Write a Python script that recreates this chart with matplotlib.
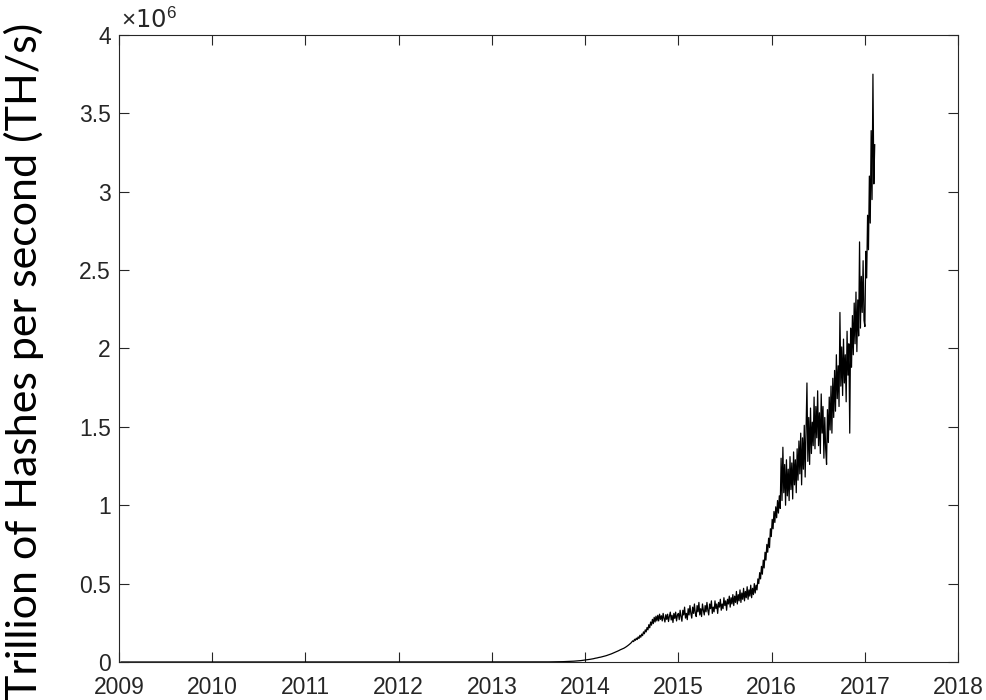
import numpy as np
import pandas as pd
import matplotlib
matplotlib.use('Agg')
import matplotlib.pyplot as plt

plt.rcParams['mathtext.fontset'] = 'custom'
plt.rcParams['mathtext.rm'] = 'Liberation Sans'
plt.rcParams['mathtext.it'] = 'Liberation Sans'

# hash rate values, in units of 1e6 TH/s
early_dates = ['2009-01-09', '2010-01-01', '2011-01-01', '2012-01-01', '2013-01-01', '2013-06-24']
early_vals = [0.0, 0.0, 0.00001, 0.00002, 0.00005, 0.0001]

# weekly values, 2013-07-01 .. 2014-06-30
hash_2013 = [0.0002, 0.0003, 0.0003, 0.0004, 0.0005, 0.0006, 0.0007, 0.0008, 0.0009, 0.0010,
             0.0012, 0.0014, 0.0016, 0.0019, 0.0022, 0.0026, 0.0030, 0.0035, 0.0040, 0.0046,
             0.0052, 0.0060, 0.0068, 0.0078, 0.0090, 0.0105, 0.0120]
hash_2014a = [0.013, 0.015, 0.017, 0.019, 0.021, 0.024, 0.026, 0.029, 0.031, 0.034,
              0.037, 0.040, 0.044, 0.048, 0.052, 0.057, 0.062, 0.067, 0.072, 0.078,
              0.083, 0.088, 0.095, 0.103, 0.112, 0.122]

# half-weekly values, 2014-07-03 onwards (noisier part)
hash_2014b = [0.128, 0.135, 0.130, 0.145, 0.138, 0.152, 0.143, 0.160, 0.150, 0.170,
              0.158, 0.178, 0.168, 0.192, 0.180, 0.205, 0.192, 0.220, 0.205, 0.238,
              0.218, 0.255, 0.235, 0.272, 0.245, 0.285, 0.255, 0.292, 0.262, 0.298,
              0.262, 0.305, 0.272, 0.295, 0.262, 0.310, 0.278, 0.255, 0.302, 0.272,
              0.305, 0.258, 0.292, 0.318, 0.268, 0.298, 0.252, 0.310, 0.278, 0.318, 0.262, 0.298]
hash_2015 = [0.31, 0.27, 0.33, 0.29, 0.26, 0.33, 0.30, 0.35, 0.28, 0.31,
             0.27, 0.34, 0.30, 0.36, 0.31, 0.28, 0.35, 0.31, 0.37, 0.31,
             0.29, 0.36, 0.32, 0.38, 0.30, 0.34, 0.29, 0.37, 0.33, 0.30,
             0.36, 0.32, 0.38, 0.33, 0.30, 0.37, 0.34, 0.39, 0.31, 0.35,
             0.32, 0.39, 0.34, 0.37, 0.31, 0.38, 0.35, 0.40, 0.33, 0.37,
             0.34, 0.41, 0.36, 0.39, 0.33, 0.40, 0.37, 0.42, 0.35, 0.41,
             0.37, 0.43, 0.36, 0.42, 0.38, 0.45, 0.37, 0.43, 0.39, 0.46,
             0.38, 0.44, 0.40, 0.47, 0.39, 0.45, 0.41, 0.48, 0.40, 0.46,
             0.42, 0.49, 0.41, 0.47, 0.43, 0.50, 0.44, 0.49, 0.46, 0.53,
             0.50, 0.57, 0.53, 0.61, 0.56, 0.65, 0.60, 0.70, 0.65, 0.75,
             0.70, 0.79, 0.73, 0.85]
hash_2016 = [0.80, 0.91, 0.85, 0.96, 0.89, 0.99, 0.92, 1.03, 0.95, 1.06,
             0.98, 1.30, 1.03, 1.37, 1.08, 1.26, 1.00, 1.29, 1.06, 1.23,
             1.03, 1.31, 1.10, 1.27, 1.04, 1.34, 1.13, 1.29, 1.08, 1.36,
             1.16, 1.41, 1.20, 1.46, 1.13, 1.43, 1.23, 1.51, 1.18, 1.49,
             1.78, 1.28, 1.56, 1.26, 1.62, 1.33, 1.53, 1.38, 1.69, 1.36,
             1.63, 1.43, 1.73, 1.38, 1.59, 1.33, 1.71, 1.46, 1.63, 1.30,
             1.56, 1.36, 1.26, 1.61, 1.40, 1.69, 1.48, 1.76, 1.46, 1.81,
             1.56, 1.86, 1.60, 1.96, 1.68, 1.89, 1.63, 2.23, 1.76, 2.01,
             1.70, 2.06, 1.78, 1.96, 1.66, 2.11, 1.83, 2.03, 1.46, 2.13,
             1.88, 2.21, 1.96, 2.29, 2.03, 2.36, 1.98, 2.31, 2.08, 2.68,
             2.13, 2.46, 2.23, 2.56, 2.18]
hash_2017 = [2.14, 2.62, 2.45, 2.85, 2.63, 3.10, 2.80, 3.39, 2.95, 3.75, 3.05, 3.30]

xtick_years = [2009, 2010, 2011, 2012, 2013, 2014, 2015, 2016, 2017, 2018]
ytick_vals = [0, 0.5, 1, 1.5, 2, 2.5, 3, 3.5, 4]
ytick_labels = ['0', '0.5', '1', '1.5', '2', '2.5', '3', '3.5', '4']


def to_decimal_year(dates):
    dates = pd.DatetimeIndex(dates)
    start = pd.to_datetime(dates.year.astype(str) + '-01-01')
    end = pd.to_datetime((dates.year + 1).astype(str) + '-01-01')
    return np.asarray(dates.year + (dates - start) / (end - start))


weekly_vals = hash_2013 + hash_2014a
weekly_dates = pd.date_range('2013-07-01', periods=len(weekly_vals), freq='7D')
half_vals = hash_2014b + hash_2015 + hash_2016 + hash_2017
half_dates = pd.date_range('2014-07-03', periods=len(half_vals), freq='84h')

x = np.concatenate([to_decimal_year(early_dates), to_decimal_year(weekly_dates),
                    to_decimal_year(half_dates)])
y = np.array(early_vals + weekly_vals + half_vals)

fig = plt.figure(figsize=(9.87, 7.0), dpi=100)
ax = fig.add_axes([0.1206, 0.0543, 0.85, 0.8957])

ax.plot(x, y, color='black', linewidth=0.9)

ax.set_xlim(2009, 2018)
ax.set_ylim(0, 4)
ax.set_xticks(xtick_years)
ax.set_xticklabels([str(v) for v in xtick_years])
ax.set_yticks(ytick_vals)
ax.set_yticklabels(ytick_labels)

for side in ax.spines.values():
    side.set_color('#262626')
    side.set_linewidth(0.8)
ax.tick_params(axis='both', direction='in', length=7, width=0.8, color='#262626',
               top=True, right=True, labelsize=16.5, labelcolor='#262626', pad=6,
               labelfontfamily='Liberation Sans')
ax.tick_params(axis='x', pad=10)

ax.text(0.002, 1.003, r'$\times$10$^{6}$', transform=ax.transAxes, fontsize=17.5,
        color='#262626', ha='left', va='bottom')

ax.set_ylabel('Trillion of Hashes per second (TH/s)', fontsize=31, family='Lato',
              color='black')
ax.yaxis.set_label_coords(-0.09, 0.48)

fig.savefig('out.png', dpi=100)
